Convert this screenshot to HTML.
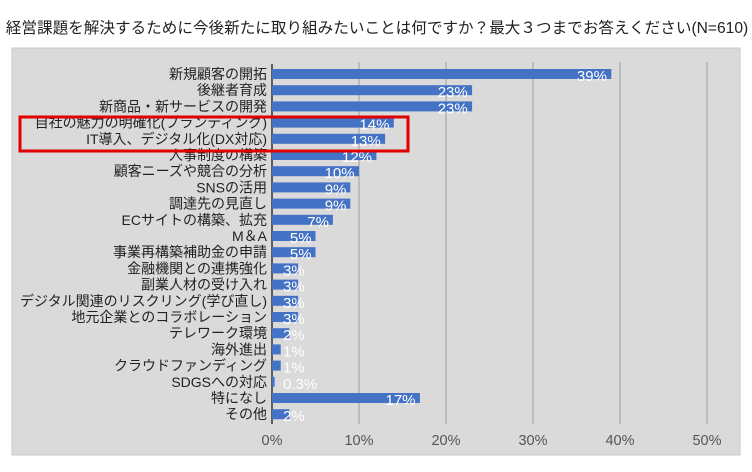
<!DOCTYPE html>
<html><head><meta charset="utf-8">
<style>
body{margin:0;background:#fff;width:752px;height:467px;overflow:hidden;font-family:"Liberation Sans","Noto Sans CJK JP",sans-serif;}
</style></head>
<body>
<svg width="752" height="467" xmlns="http://www.w3.org/2000/svg">
<text x="377" y="33" text-anchor="middle" font-size="15.6" fill="#222" font-family="Liberation Sans, Noto Sans CJK JP, sans-serif">経営課題を解決するために今後新たに取り組みたいことは何ですか？最大３つまでお答えください(N=610)</text>
<rect x="12" y="48" width="728" height="407" fill="#dadada" stroke="#c8c8c8"/>
<g id="grid"></g><g id="bars"></g><g id="labels"></g><g id="xticks"></g>
<rect x="20" y="117" width="388" height="34" fill="none" stroke="#e00000" stroke-width="3"/>
</svg>
<script>
const categories=["新規顧客の開拓","後継者育成","新商品・新サービスの開発","自社の魅力の明確化(ブランディング)","IT導入、デジタル化(DX対応)","人事制度の構築","顧客ニーズや競合の分析","SNSの活用","調達先の見直し","ECサイトの構築、拡充","M＆A","事業再構築補助金の申請","金融機関との連携強化","副業人材の受け入れ","デジタル関連のリスクリング(学び直し)","地元企業とのコラボレーション","テレワーク環境","海外進出","クラウドファンディング","SDGSへの対応","特になし","その他"];
const values=[39,23,23,14,13,12,10,9,9,7,5,5,3,3,3,3,2,1,1,0.3,17,2];
const valueLabels=["39%","23%","23%","14%","13%","12%","10%","9%","9%","7%","5%","5%","3%","3%","3%","3%","2%","1%","1%","0.3%","17%","2%"];
const ticks=[0,10,20,30,40,50];
const NS="http://www.w3.org/2000/svg";
const x0=272,pxPer=8.7,y0=74,step=16.2;
const X=v=>x0+v*pxPer, Y=i=>y0+i*step;
function mk(tag,attrs,parent){const e=document.createElementNS(NS,tag);for(const k in attrs)e.setAttribute(k,attrs[k]);document.getElementById(parent).appendChild(e);return e;}
ticks.forEach(t=>{
  if(t>0){const g=mk('line',{x1:X(t),x2:X(t),y1:62,y2:424,stroke:'#9e9e9e','stroke-width':1},'grid');
  
  }
  const tx=mk('text',{x:X(t),y:445,'text-anchor':'middle','font-size':14.5,fill:'#555'},'xticks');
  tx.textContent=t+'%';
  
  
});
const ax=mk('line',{x1:x0,x2:x0,y1:64,y2:424,stroke:'#333','stroke-width':1.5},'grid');


categories.forEach((c,i)=>{
  const b=mk('rect',{x:x0,y:Y(i)-5,width:X(values[i])-x0,height:10,fill:'#4472c4'},'bars');
  
  
  const l=mk('text',{x:x0-5,y:Y(i)+5,'text-anchor':'end','font-size':14,fill:'#222'},'labels');
  l.textContent=c;
  
  
  const v=mk('text',{y:Y(i)+7,'font-size':15,fill:'#fff'},'labels');
  v.textContent=valueLabels[i];
  const w=valueLabels[i].length*8.8;
  const left=Math.max(X(values[i])-8-w,x0+11);
  v.setAttribute('x',left);
  
  
});
</script>
</body></html>
